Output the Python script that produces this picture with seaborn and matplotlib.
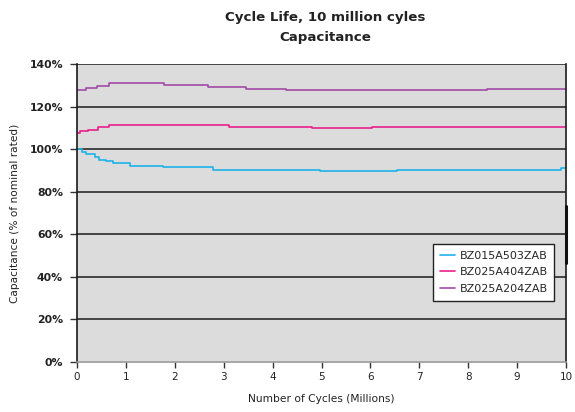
import numpy as np
import pandas as pd
import matplotlib
matplotlib.use("Agg")
import matplotlib.pyplot as plt
import seaborn as sns

# ---- data ----
series_names = ["BZ015A503ZAB", "BZ025A404ZAB", "BZ025A204ZAB"]

blue_x = [0, 0.1, 0.19, 0.36, 0.46, 0.6, 0.73, 1.08, 1.76, 2.78, 4.97, 6.54, 9.89, 10]
blue_y = [100, 98.8, 97.7, 96.2, 95.1, 94.2, 93.4, 92.3, 91.4, 90.4, 89.5, 90.1, 91.0, 91.0]

magenta_x = [0, 0.06, 0.23, 0.43, 0.66, 3.1, 4.81, 6.03, 10]
magenta_y = [107.7, 108.5, 109.2, 110.2, 111.4, 110.6, 109.8, 110.6, 110.6]

purple_x = [0, 0.19, 0.4, 0.66, 1.77, 2.67, 3.45, 4.28, 8.38, 10]
purple_y = [127.9, 128.8, 129.8, 130.9, 130.0, 129.1, 128.4, 127.6, 128.3, 128.3]

x_ticks = list(range(0, 11))
y_ticks = [0, 20, 40, 60, 80, 100, 120, 140]
y_tick_labels = [f"{v}%" for v in y_ticks]

title_lines = ["Cycle Life, 10 million cyles", "Capacitance"]
x_label = "Number of Cycles (Millions)"
y_label = "Capacitance (% of nominal rated)"

colors = ["#1cb3ea", "#ea1f8c", "#a24ba6"]

df = pd.concat([
    pd.DataFrame({"x": blue_x, "y": blue_y, "series": series_names[0]}),
    pd.DataFrame({"x": magenta_x, "y": magenta_y, "series": series_names[1]}),
    pd.DataFrame({"x": purple_x, "y": purple_y, "series": series_names[2]}),
])

# ---- plot ----
sns.set_style("white")
plt.rcParams["font.family"] = ["DejaVu Sans"]

W, H = 575, 412
fig = plt.figure(figsize=(W / 100, H / 100), dpi=100)
L, R, T, B = 77, 566, 64, 362
ax = fig.add_axes([L / W, 1 - B / H, (R - L) / W, (B - T) / H])
ax.set_facecolor("#dcdcdd")

sns.lineplot(data=df, x="x", y="y", hue="series", palette=colors,
             hue_order=series_names, drawstyle="steps-post", linewidth=1.2,
             ax=ax, legend=True, sort=False, estimator=None)

ax.set_xlim(0, 10)
ax.set_ylim(0, 140)
ax.set_xticks(x_ticks)
ax.set_xticklabels([str(v) for v in x_ticks], fontsize=7.5, color="#222222")
ax.set_yticks(y_ticks)
ax.set_yticklabels(y_tick_labels, fontsize=7.8, fontweight="bold", color="#222222")

for v in y_ticks[1:]:
    ax.axhline(v, color="#2b2b2b", linewidth=1.2, zorder=1)

ax.tick_params(axis="x", direction="out", length=4, width=1, color="#333333", pad=3)
ax.tick_params(axis="y", direction="out", length=5, width=1, color="#333333", pad=5)
ax.xaxis.set_ticks_position("bottom")
ax.yaxis.set_ticks_position("left")

for s in ["left", "right"]:
    ax.spines[s].set_color("#1a1a1a")
    ax.spines[s].set_linewidth(1.2)
ax.spines["top"].set_visible(False)
ax.spines["bottom"].set_color("#9a9a9a")
ax.spines["bottom"].set_linewidth(1.2)

# dark mark on the right edge
ax.axvline(10, ymin=0.332, ymax=0.523, color="#111111", linewidth=2.2, zorder=5, clip_on=False)

ax.set_xlabel(x_label, fontsize=7.7, labelpad=9, color="#222222")
ax.set_ylabel(y_label, fontsize=7.6, labelpad=7, color="#222222")

leg = ax.legend(loc="upper left", bbox_to_anchor=((433 - L) / (R - L), (B - 244) / (B - T)),
                fontsize=8, frameon=True, fancybox=False, handlelength=1.4,
                handletextpad=0.4, borderpad=0.6, labelspacing=0.6,
                borderaxespad=0)
leg.get_frame().set_edgecolor("#222222")
leg.get_frame().set_linewidth(1.0)
leg.get_frame().set_facecolor("white")
leg.get_frame().set_alpha(1)
leg.set_title(None)

fig.text(325 / W, 1 - 18 / H, title_lines[0], ha="center", va="center",
         fontsize=9.6, fontweight="bold", color="#222222")
fig.text(325 / W, 1 - 37 / H, title_lines[1], ha="center", va="center",
         fontsize=9.6, fontweight="bold", color="#222222")

fig.savefig("out.png", dpi=100, facecolor="white")
